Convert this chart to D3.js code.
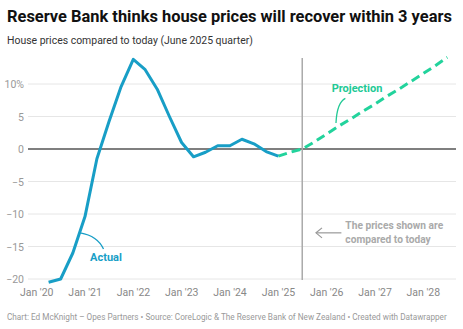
<!DOCTYPE html>
<html>
<head>
<meta charset="utf-8">
<script src="https://cdn.jsdelivr.net/npm/d3@7"></script>
<style>
  body { margin: 0; background: #fff; }
  svg { display: block; font-family: Roboto, "Noto Sans", sans-serif; }
</style>
</head>
<body>
<svg id="chart" width="463" height="329"></svg>
<script>
// quarterly house price change vs June 2025 quarter (%)
var actualDates = ["2020-03-31", "2020-06-30", "2020-09-30", "2020-12-31",
  "2021-03-31", "2021-06-30", "2021-09-30", "2021-12-31",
  "2022-03-31", "2022-06-30", "2022-09-30", "2022-12-31",
  "2023-03-31", "2023-06-30", "2023-09-30", "2023-12-31",
  "2024-03-31", "2024-06-30", "2024-09-30", "2024-12-31"];
var actualValues = [-20.5, -20.0, -16.0, -10.4,
  -1.5, 4.2, 9.6, 13.8,
  12.2, 9.2, 5.0, 1.0,
  -1.2, -0.5, 0.5, 0.5,
  1.5, 0.8, -0.4, -1.1];

var projectionDates = ["2024-12-31", "2025-03-31", "2025-06-30", "2025-09-30", "2025-12-31",
  "2026-03-31", "2026-06-30", "2026-09-30", "2026-12-31",
  "2027-03-31", "2027-06-30", "2027-09-30", "2027-12-31",
  "2028-03-31", "2028-06-30"];
var projectionValues = [-1.1, -0.5, 0.0, 1.1, 2.3,
  3.5, 4.6, 5.8, 6.9,
  8.1, 9.2, 10.4, 11.6,
  12.8, 14.1];

var yTicks = [-20, -15, -10, -5, 0, 5, 10];
var xTicks = ["2020", "2021", "2022", "2023", "2024", "2025", "2026", "2027", "2028"];
var todayDate = "2025-06-30";

var parse = d3.utcParse("%Y-%m-%d");
var parseYear = d3.utcParse("%Y");

var svg = d3.select("#chart");
var left = 28, right = 456;

var x = d3.scaleUtc()
  .domain([parseYear("2020"), parseYear("2028")])
  .range([36.7, 423.3]);
var y = d3.scaleLinear().domain([-20, 10]).range([279, 84]);

var actual = actualDates.map(function(d, i) { return { t: parse(d), v: actualValues[i] }; });
var projection = projectionDates.map(function(d, i) { return { t: parse(d), v: projectionValues[i] }; });

// shrink/grow font so a text spans the given width
function fitWidth(sel, width) {
  var fs = +sel.attr("font-size");
  var w = sel.node().getComputedTextLength();
  sel.attr("font-size", (fs * width / w).toFixed(2));
  return sel;
}

// title block
fitWidth(svg.append("text").attr("x", 7).attr("y", 22)
  .attr("font-size", 15).attr("font-weight", 700).attr("fill", "#111")
  .text("Reserve Bank thinks house prices will recover within 3 years"), 445);
fitWidth(svg.append("text").attr("x", 7).attr("y", 44)
  .attr("font-size", 12).attr("fill", "#333")
  .text("House prices compared to today (June 2025 quarter)"), 246);

// gridlines + y labels
var grid = svg.append("g");
yTicks.forEach(function(t) {
  grid.append("line")
    .attr("x1", left).attr("x2", right)
    .attr("y1", y(t)).attr("y2", y(t))
    .attr("stroke", t === 0 ? "#555" : "#e6e6e6")
    .attr("stroke-width", t === 0 ? 1.5 : 1);
  grid.append("text")
    .attr("x", 24).attr("y", y(t) + 4)
    .attr("text-anchor", "end")
    .attr("font-size", 10.5).attr("fill", "#999")
    .text(t === 10 ? "10%" : (t < 0 ? "\u2212" + Math.abs(t) : t));
});

// x labels
xTicks.forEach(function(yr) {
  svg.append("text")
    .attr("x", x(parseYear(yr))).attr("y", 296)
    .attr("text-anchor", "middle")
    .attr("font-size", 10.5).attr("fill", "#888")
    .text("Jan '" + yr.slice(2));
});

// today marker
svg.append("line")
  .attr("x1", x(parse(todayDate))).attr("x2", x(parse(todayDate)))
  .attr("y1", 58).attr("y2", 280)
  .attr("stroke", "#aaa").attr("stroke-width", 1.5);

var line = d3.line()
  .x(function(d) { return x(d.t); })
  .y(function(d) { return y(d.v); });

svg.append("path").datum(projection)
  .attr("d", line)
  .attr("fill", "none")
  .attr("stroke", "#22d39c")
  .attr("stroke-width", 3)
  .attr("stroke-dasharray", "9,5");

svg.append("path").datum(actual)
  .attr("d", line)
  .attr("fill", "none")
  .attr("stroke", "#189ec6")
  .attr("stroke-width", 3)
  .attr("stroke-linejoin", "round");

// annotations
function pt(date, v) { return [x(parse(date)), y(v)]; }

function curve(a, c, b, color) {
  var p = d3.path();
  p.moveTo(a[0], a[1]);
  p.quadraticCurveTo(c[0], c[1], b[0], b[1]);
  svg.append("path").attr("d", p.toString())
    .attr("fill", "none").attr("stroke", color).attr("stroke-width", 1.3);
}

var a0 = pt("2020-11-25", -12.9), a1 = pt("2021-05-20", -15.4);
curve(a0, [a1[0] - 6, a0[1] + 3], a1, "#189ec6");
var al = pt("2021-06-08", -17.3);
svg.append("text").attr("x", al[0]).attr("y", al[1])
  .attr("text-anchor", "middle").attr("font-size", 11).attr("font-weight", 700)
  .attr("fill", "#189ec6").text("Actual");

var p0 = pt("2026-05-22", 7.8), p1 = pt("2026-03-12", 4.0);
curve(p0, [p1[0] + 1, p0[1] + 4], p1, "#22c995");
var pl = pt("2026-08-18", 8.8);
svg.append("text").attr("x", pl[0]).attr("y", pl[1])
  .attr("text-anchor", "middle").attr("font-size", 11).attr("font-weight", 700)
  .attr("fill", "#22c995").text("Projection");

var n0 = pt("2026-04-22", -12.9), n1 = pt("2025-10-12", -12.9);
svg.append("line").attr("x1", n0[0]).attr("y1", n0[1]).attr("x2", n1[0]).attr("y2", n1[1])
  .attr("stroke", "#999").attr("stroke-width", 1.2);
svg.append("path")
  .attr("d", "M" + (n1[0] + 6) + "," + (n1[1] - 5) + "L" + n1[0] + "," + n1[1] + "L" + (n1[0] + 6) + "," + (n1[1] + 5))
  .attr("fill", "none").attr("stroke", "#999").attr("stroke-width", 1.2);
var nt = pt("2026-05-22", -12.3);
var note = svg.append("text").attr("x", nt[0]).attr("y", nt[1])
  .attr("font-size", 10.2).attr("font-weight", 700).attr("fill", "#aaa");
note.append("tspan").attr("x", nt[0]).text("The prices shown are");
note.append("tspan").attr("x", nt[0]).attr("dy", 14.5).text("compared to today");

// footer
fitWidth(svg.append("text").attr("x", 7).attr("y", 320)
  .attr("font-size", 9).attr("fill", "#999")
  .text("Chart: Ed McKnight \u2013 Opes Partners \u2022 Source: CoreLogic & The Reserve Bank of New Zealand \u2022 Created with Datawrapper"), 440);
</script>
</body>
</html>
